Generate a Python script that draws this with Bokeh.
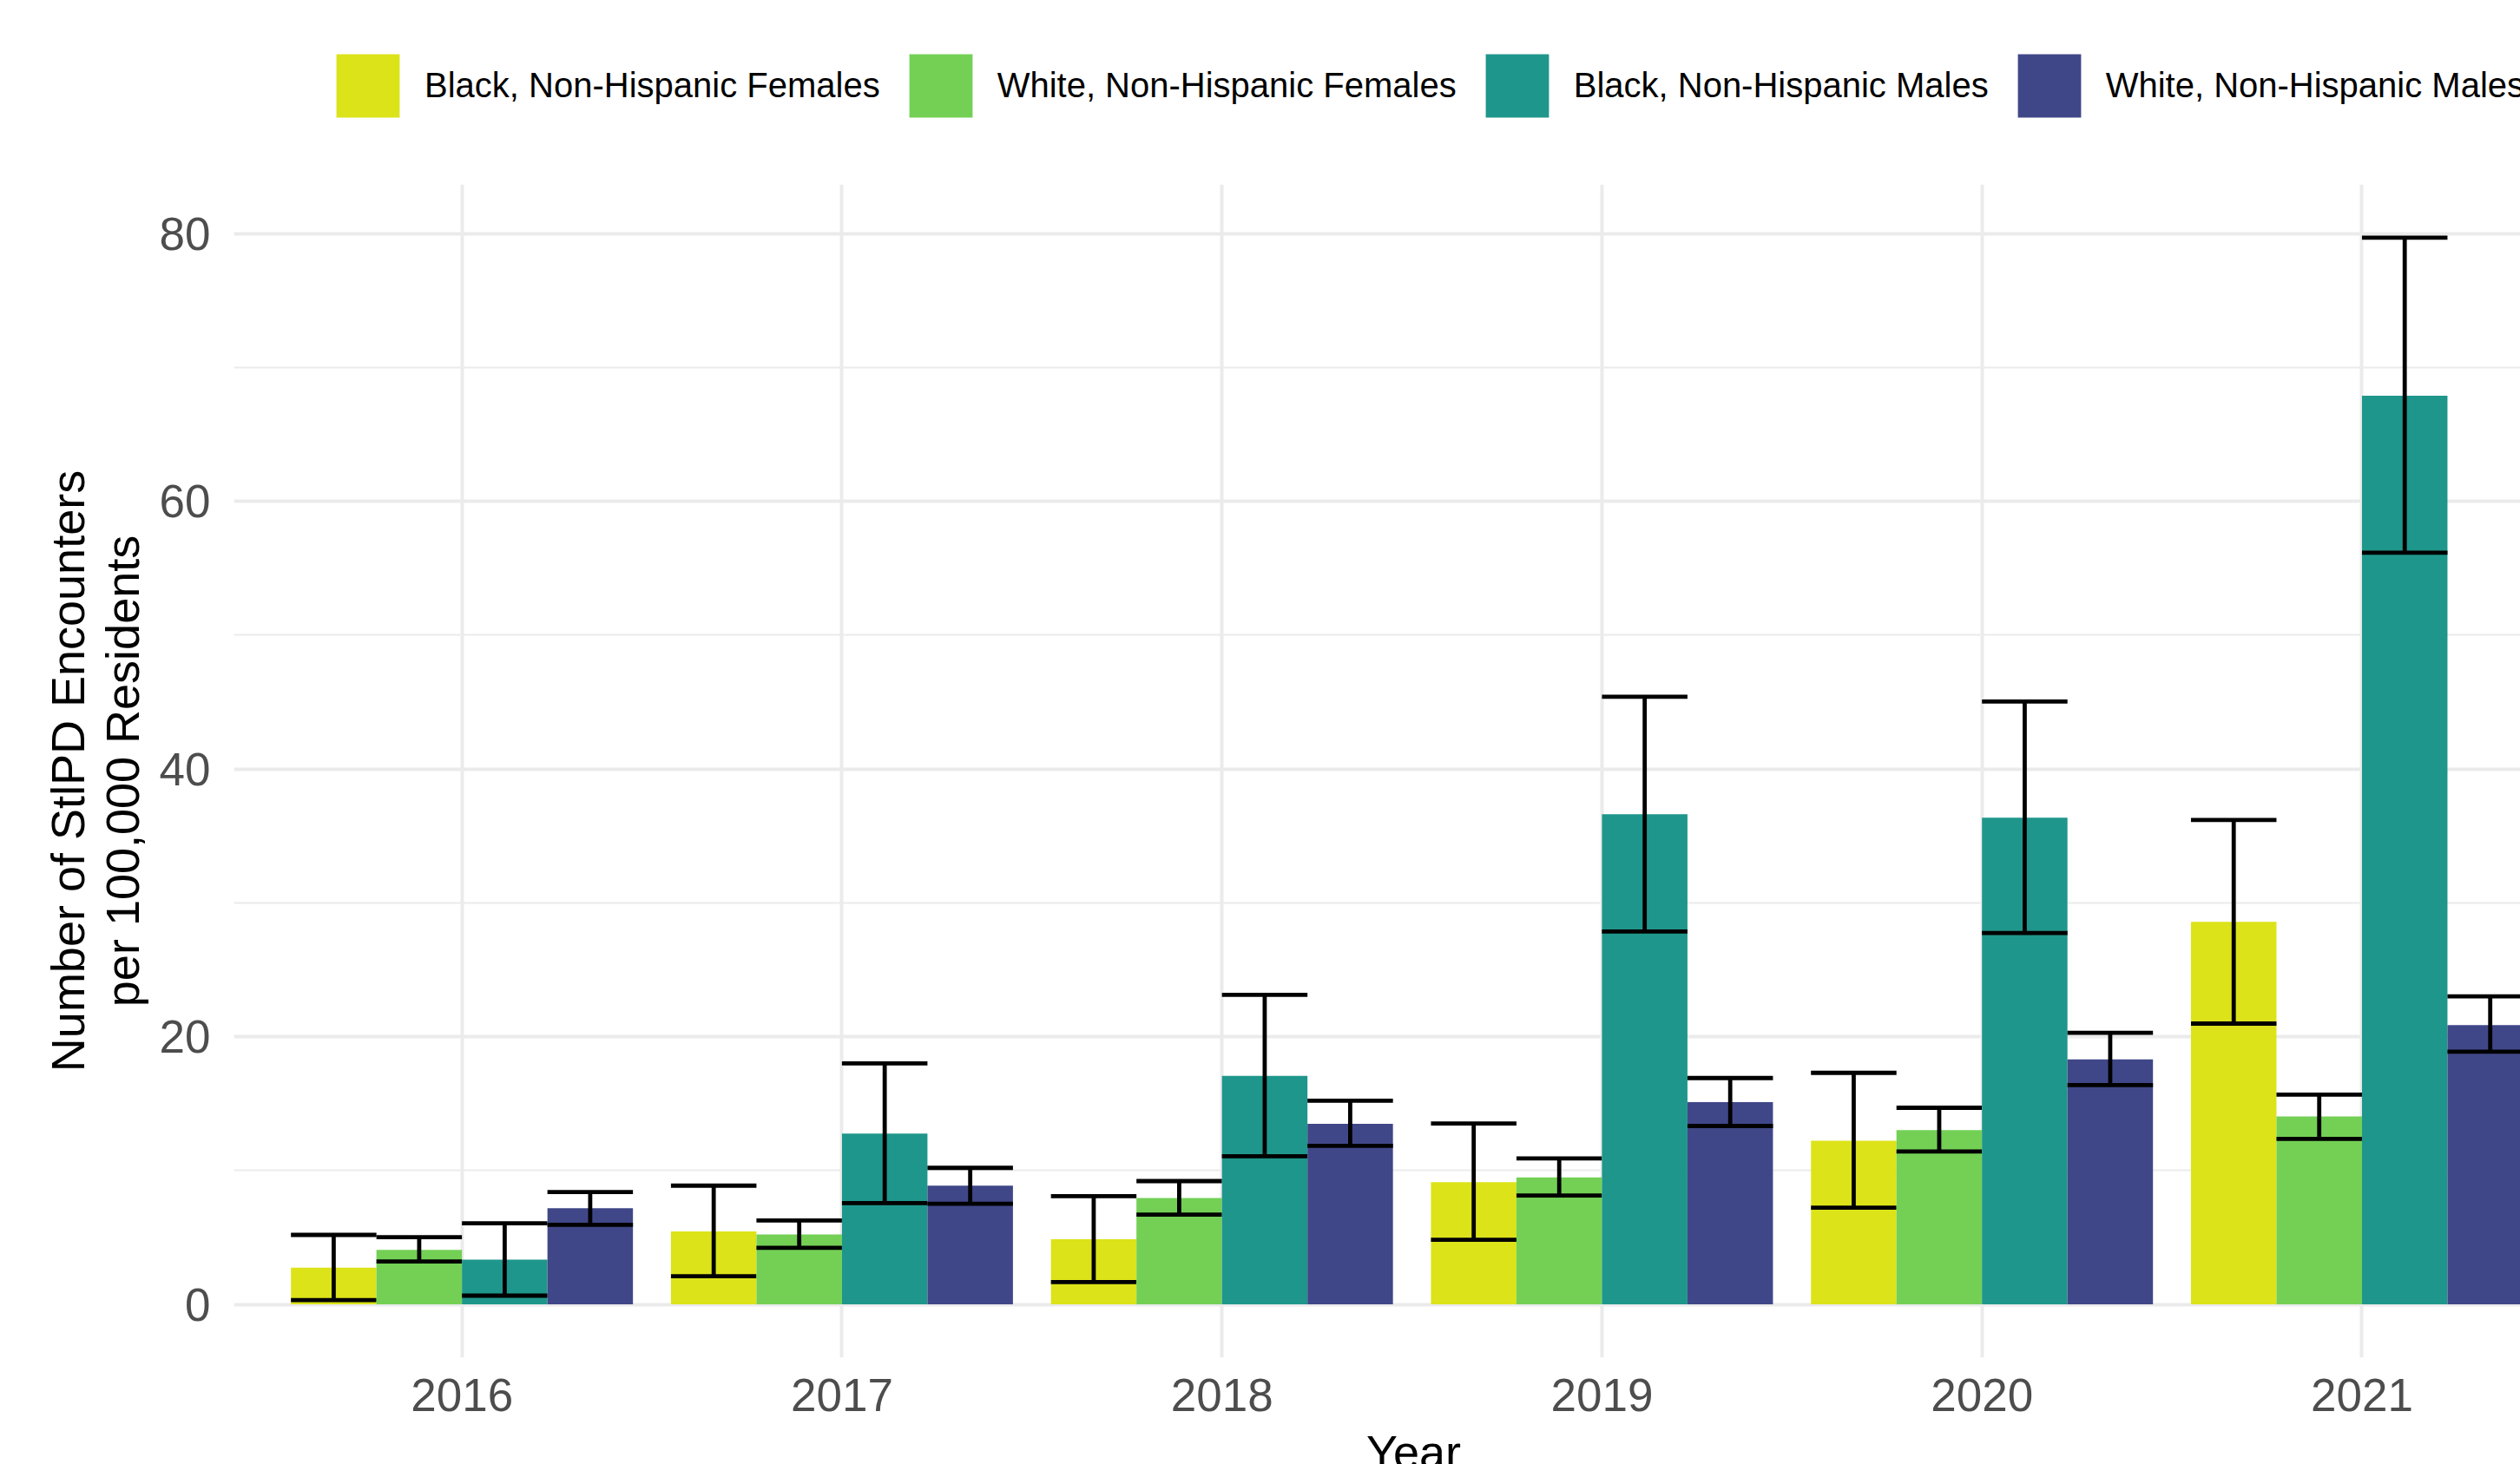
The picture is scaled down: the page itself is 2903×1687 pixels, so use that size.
from bokeh.plotting import figure
from bokeh.layouts import column
from bokeh.models import Range1d, FixedTicker, Legend, LegendItem, Label, ColumnDataSource
from bokeh.embed import file_html
from bokeh.resources import INLINE

# ---- data ----
years = [2016, 2017, 2018, 2019, 2020, 2021]
groups = ["Black, Non-Hispanic Females", "White, Non-Hispanic Females",
          "Black, Non-Hispanic Males", "White, Non-Hispanic Males"]
colors = ["#DCE319", "#73D055", "#1F968B", "#404788"]

bf_rate = [2.75, 5.45, 4.86, 9.13, 12.22, 28.59]
bf_low = [0.32, 2.10, 1.67, 4.83, 7.22, 20.98]
bf_high = [5.19, 8.87, 8.09, 13.51, 17.30, 36.20]

wf_rate = [4.07, 5.23, 7.94, 9.48, 13.02, 14.04]
wf_low = [3.20, 4.22, 6.70, 8.13, 11.43, 12.36]
wf_high = [5.02, 6.27, 9.21, 10.90, 14.69, 15.67]

bm_rate = [3.35, 12.76, 17.08, 36.62, 36.37, 67.89]
bm_low = [0.65, 7.57, 11.07, 27.86, 27.75, 56.17]
bm_high = [6.06, 18.00, 23.13, 45.40, 45.05, 79.70]

wm_rate = [7.18, 8.87, 13.49, 15.11, 18.30, 20.87]
wm_low = [5.95, 7.52, 11.85, 13.33, 16.39, 18.88]
wm_high = [8.39, 10.20, 15.22, 16.91, 20.29, 23.02]

y_ticks = [0, 20, 40, 60, 80]
y_minor = [10, 30, 50, 70]
x_title = "Year"
y_title = "Number of StlPD Encounters\nper 100,000 Residents"

series = [(bf_rate, bf_low, bf_high), (wf_rate, wf_low, wf_high),
          (bm_rate, bm_low, bm_high), (wm_rate, wm_low, wm_high)]

# ---- layout ----
W = 2903
LEFT = 269           # left border (frames of the stacked figures are aligned)
LEG_H = 212          # legend strip above the panel
MAIN_H = 1442        # panel (1352) + x tick labels (90)
YEAR_H = 1687 - LEG_H - MAIN_H
FONT = "Liberation Sans"

dodge = 0.9
bw = dodge / len(groups)
ymax = max(max(s[2]) for s in series)
ylo, yhi = -0.05 * ymax, ymax * 1.05

# main chart
p = figure(width=W, height=MAIN_H, output_backend="svg", toolbar_location=None,
           x_range=Range1d(2015.4, 2021.417), y_range=Range1d(ylo, yhi),
           min_border_left=LEFT, min_border_right=0, min_border_top=0,
           min_border_bottom=MAIN_H - 1352)
p.outline_line_color = None
p.background_fill_color = "white"
p.border_fill_color = "white"

# legend strip
lf = figure(width=W, height=LEG_H, output_backend="svg", toolbar_location=None,
            x_range=Range1d(0, 1), y_range=Range1d(0, 1),
            x_axis_location=None, y_axis_location=None, min_border=0,
            min_border_left=LEFT)
lf.outline_line_color = None
lf.xgrid.visible = False
lf.ygrid.visible = False

renderers = []
leg_renderers = []
for i, (rate, lo, hi) in enumerate(series):
    off = (i - (len(groups) - 1) / 2) * bw
    xs = [y + off for y in years]
    src = ColumnDataSource(dict(x=xs, top=rate, lo=lo, hi=hi,
                                xl=[x - bw / 2 for x in xs],
                                xr=[x + bw / 2 for x in xs]))
    r = p.vbar(x="x", top="top", bottom=0, width=bw, source=src,
               fill_color=colors[i], line_color=None)
    renderers.append(r)
    p.segment(x0="x", y0="lo", x1="x", y1="hi", source=src,
              line_color="black", line_width=4.8)
    p.segment(x0="xl", y0="hi", x1="xr", y1="hi", source=src,
              line_color="black", line_width=4.8)
    p.segment(x0="xl", y0="lo", x1="xr", y1="lo", source=src,
              line_color="black", line_width=4.8)
    # same bars in the legend strip (outside its visible range) to key the legend
    leg_renderers.append(lf.vbar(x="x", top="top", bottom=0, width=bw, source=src,
                                 fill_color=colors[i], line_color=None))

p.xaxis.ticker = FixedTicker(ticks=years)
p.yaxis.ticker = FixedTicker(ticks=y_ticks, minor_ticks=y_minor)
for ax in (p.xaxis[0], p.yaxis[0]):
    ax.axis_line_color = None
    ax.major_tick_line_color = None
    ax.minor_tick_line_color = None
    ax.major_label_text_font = FONT
    ax.major_label_text_font_size = "53px"
    ax.major_label_text_color = "#4D4D4D"
p.xaxis.major_label_standoff = 18
p.yaxis.major_label_standoff = 21

p.yaxis.axis_label = y_title
p.yaxis.axis_label_text_font = FONT
p.yaxis.axis_label_text_font_size = "54px"
p.yaxis.axis_label_text_font_style = "normal"
p.yaxis.axis_label_text_color = "black"
p.yaxis.axis_label_text_line_height = 1.05
p.yaxis.axis_label_standoff = 10

p.xgrid.grid_line_color = "#EBEBEB"
p.xgrid.grid_line_width = 4
p.ygrid.grid_line_color = "#EBEBEB"
p.ygrid.grid_line_width = 4
p.ygrid.minor_grid_line_color = "#EBEBEB"
p.ygrid.minor_grid_line_width = 2

legend = Legend(items=[LegendItem(label=g, renderers=[r]) for g, r in zip(groups, leg_renderers)],
                location=(378 - LEFT, 68), orientation="horizontal",
                glyph_width=91, glyph_height=91, label_standoff=20, spacing=24,
                padding=0, margin=0, border_line_color=None,
                background_fill_alpha=0,
                label_text_font=FONT, label_text_font_size="40px",
                label_text_color="black")
lf.add_layout(legend)

# x axis title strip (title sits at the bottom edge, cut off like the reference)
yf = figure(width=W, height=YEAR_H, output_backend="svg", toolbar_location=None,
            x_range=Range1d(0, 1), y_range=Range1d(0, 1),
            x_axis_location=None, y_axis_location=None, min_border=0,
            min_border_left=LEFT)
yf.outline_line_color = None
yf.xgrid.visible = False
yf.ygrid.visible = False
yf.add_layout(Label(x=1628 - LEFT, y=15, x_units="screen", y_units="screen",
                    text=x_title, text_align="center", text_baseline="alphabetic",
                    text_font=FONT, text_font_size="54px", text_color="black"))

layout = column(lf, p, yf, spacing=0)
open("out.html", "w").write(file_html(layout, INLINE))
